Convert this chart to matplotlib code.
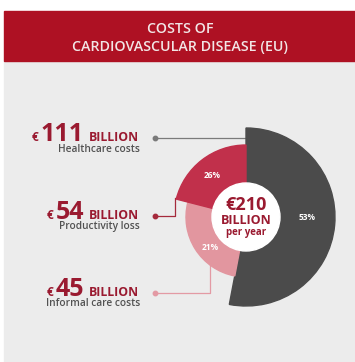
import matplotlib
matplotlib.use("Agg")
import matplotlib.pyplot as plt
from matplotlib.patches import Wedge, Circle, Rectangle

plt.rcParams['font.family'] = ['Open Sans', 'DejaVu Sans']

segments = ["Healthcare costs", "Productivity loss", "Informal care costs"]
billions = ["111", "54", "45"]
pct_labels = ["53%", "26%", "21%"]
# arc sizes as they are drawn in the original (clockwise from 12 o'clock:
# healthcare, informal care, productivity)
arc_share = [53, 21, 26]
total_label = "€210"

W, H = 355, 362
dark = "#4b4b4b"
red = "#c1304b"
pink = "#e2969f"
header_red = "#ae1123"
text_red = "#9a1a30"
bg = "#ececec"
seg_colors = [dark, red, pink]
radii = [89, 72, 60]
line_colors = ["#7a7a7a", "#a52a3c", "#e39aa4"]

fig = plt.figure(figsize=(W / 100, H / 100), dpi=100)
fig.patch.set_facecolor("white")
ax = fig.add_axes([0, 0, 1, 1])
ax.set_xlim(0, W)
ax.set_ylim(H, 0)
ax.axis("off")

# background + header
ax.add_patch(Rectangle((4, 61), W - 4, H - 61, color=bg, zorder=0))
ax.add_patch(Rectangle((4, 11), W - 4, 50, color=header_red, zorder=1))
ax.text(180, 29, "COSTS OF", ha="center", va="center", color="#f2e6e6",
        fontsize=10.3, fontweight="semibold")
ax.text(180, 47, "CARDIOVASCULAR DISEASE (EU)", ha="center", va="center",
        color="#f2e6e6", fontsize=10.3, fontweight="semibold")

# donut: angles clockwise from the top, axis y is inverted
cx, cy = 246, 217
order = [0, 2, 1]  # drawing order clockwise: healthcare, informal, productivity
start = 0.0
for i in order:
    span = arc_share[i] / 100 * 360
    # with inverted y, matplotlib angles run clockwise on screen
    t1 = start - 90
    t2 = start + span - 90
    ax.add_patch(Wedge((cx, cy), radii[i], t1, t2, color=seg_colors[i], zorder=2))
    start += span
ax.add_patch(Circle((cx, cy), 34, color="white", zorder=3))

# percentage labels
pct_pos = [(307, 217), (212, 175), (210, 247)]
for i in range(3):
    ax.text(pct_pos[i][0], pct_pos[i][1], pct_labels[i], ha="center", va="center",
            color="white", fontsize=6, fontweight="bold", zorder=4)

ax.text(cx, 205, total_label, ha="center", va="center", color=text_red,
        fontsize=13, fontweight="bold", zorder=4)
ax.text(cx, 221, "BILLION", ha="center", va="center", color=text_red,
        fontsize=9, fontweight="bold", zorder=4)
ax.text(cx, 233, "per year", ha="center", va="center", color=text_red,
        fontsize=7, fontweight="bold", zorder=4)

# left labels
label_y = [138, 216, 293]
fig.canvas.draw()
renderer = fig.canvas.get_renderer()
for i in range(3):
    y = label_y[i]
    ax.text(89, y + 3, "BILLION", ha="left", va="baseline", color=text_red,
            fontsize=8.8, fontweight="bold")
    num = ax.text(84, y + 3, billions[i], ha="right", va="baseline", color=text_red,
                  fontsize=18, fontweight="bold")
    bb = num.get_window_extent(renderer)
    x_left = ax.transData.inverted().transform((bb.x0, bb.y0))[0]
    ax.text(x_left - 2, y + 3, "€", ha="right", va="baseline", color=text_red,
            fontsize=8.5, fontweight="bold")
    ax.text(140, y + 11, segments[i], ha="right", va="center", color="#525252",
            fontsize=7.3, fontweight="semibold")

# connectors
ax.plot([155, cx], [138, 138], color=line_colors[0], lw=0.9, zorder=1.5)
ax.plot([155, 175, 175], [216, 216, 198], color=line_colors[1], lw=0.9, zorder=1.5)
ax.plot([155, 210, 210], [293, 293, 263], color=line_colors[2], lw=0.9, zorder=1.5)
for i in range(3):
    ax.plot(155, label_y[i], "o", ms=3.2, color=line_colors[i], zorder=4)

fig.savefig("out.png", dpi=100)
